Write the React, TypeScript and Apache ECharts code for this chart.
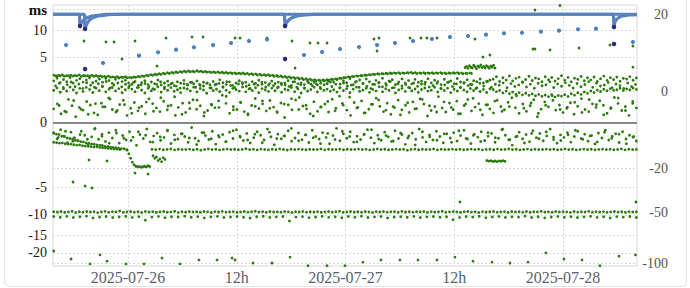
import { useEffect, useRef } from "react";
import * as echarts from "echarts";

// ---------- axes ----------
const T0 = Date.UTC(2025, 6, 26); // 2025-07-26 00:00 UTC, x values are hours since this instant
const HOUR = 3600000;
const xRangeHours = [-8.28, 56.17];
const xTickHours = [0, 12, 24, 36, 48];
const leftTicks = [15, 10, 5, 0, -5, -10, -15, -20];
const leftRange = [-24.2, 16.24];
const rightTicks = [20, 0, -20, -50, -100];
const rightRange = [-103.3, 25.55];

// ---------- score (right axis) ----------
const scoreLineAHours = [-8.28, -5.4, -5.3, -5.15, -4.95, -4.7, -4.3, -3.8, -3.1, -2.3, -1.3, 17.23, 17.33, 17.48, 17.68, 17.93, 18.33, 18.83, 19.53, 20.33, 21.33, 53.53, 53.63, 53.73, 53.88, 54.13, 54.43, 54.83, 55.43, 56.17];
const scoreLineAValues = [20.4, 20.4, 14.7, 16.0, 17.2, 18.2, 19.0, 19.6, 20.0, 20.3, 20.4, 20.4, 14.7, 16.0, 17.2, 18.2, 19.0, 19.6, 20.0, 20.3, 20.4, 20.4, 14.2, 16.4, 17.6, 18.6, 19.3, 19.7, 20.0, 20.2];
const scoreLineBHours = [-8.28, -4.84, -4.74, -4.59, -4.39, -4.14, -3.74, -3.24, -2.54, -1.74, -0.7, 56.17];
const scoreLineBValues = [20.4, 20.4, 13.4, 15.2, 16.7, 17.9, 18.8, 19.5, 19.95, 20.25, 20.4, 20.4];

const monitorScoreHours = [-6.84, -2.76, 1.21, 3.31, 5.3, 7.28, 9.38, 11.37, 13.35, 15.34, 19.42, 21.41, 23.39, 25.49, 27.48, 29.46, 31.45, 33.54, 35.53, 37.52, 39.5, 41.49, 43.48, 45.57, 47.56, 49.66, 51.64, 55.72];
const monitorScores = [7.41, 2.8, 4.41, 5.28, 6.0, 6.7, 7.41, 8.06, 8.74, 9.26, 4.58, 5.36, 6.2, 6.78, 7.41, 8.06, 8.74, 9.44, 10.17, 10.54, 11.05, 11.6, 11.83, 12.24, 12.65, 13.24, 13.5, 8.4];
const stepHours = [-5.3, -4.74, -4.74, 17.33, 17.33, 53.63, 53.63];
const stepScores = [14.7, 13.4, 1.75, 14.7, 3.64, 14.2, 7.74];

// ---------- offsets (left axis, ms) ----------
const upperLineSpan = [-8.17, 37.74];
const upperLine = [2.62,2.6,2.66,2.58,2.63,2.6,2.67,2.6,2.57,2.62,2.6,2.55,2.5,2.53,2.45,2.48,2.42,2.46,2.4,2.44,2.5,2.56,2.62,2.7,2.74,2.8,2.86,2.92,2.95,3.0,3.05,3.1,3.12,3.09,3.15,3.1,3.06,3.02,3.0,3.01,2.97,2.95,2.92,2.9,2.87,2.88,2.84,2.8,2.78,2.74,2.7,2.68,2.64,2.6,2.55,2.5,2.45,2.4,2.35,2.3,2.25,2.2,2.15,2.12,2.13,2.15,2.2,2.24,2.3,2.38,2.45,2.5,2.56,2.6,2.65,2.7,2.75,2.8,2.82,2.85,2.88,2.9,2.93,2.9,2.92,2.96,2.92,2.9,2.93,2.9,2.92,2.9,2.93,2.9,2.88,2.91,2.93,2.9,2.87,2.9];
const upperLine2Span = [-7.95, 37.9];
const upperLine2 = [2.55,2.57,2.52,2.58,2.54,2.56,2.5,2.55,2.53,2.52,2.5,2.46,2.44,2.41,2.4,2.37,2.38,2.35,2.36,2.4,2.45,2.5,2.57,2.62,2.68,2.72,2.78,2.83,2.88,2.93,2.97,3.0,3.03,3.02,3.05,3.0,2.98,2.95,2.93,2.9,2.88,2.85,2.83,2.8,2.8,2.76,2.73,2.7,2.66,2.62,2.6,2.56,2.52,2.47,2.42,2.38,2.33,2.28,2.23,2.18,2.13,2.09,2.05,2.06,2.08,2.12,2.17,2.22,2.3,2.37,2.43,2.48,2.53,2.58,2.62,2.67,2.72,2.75,2.78,2.8,2.83,2.85,2.82,2.85,2.88,2.85,2.82,2.85,2.83,2.85,2.82,2.86,2.83,2.8,2.84,2.86,2.83,2.8,2.82,2.84];
const upperClusterSpan = [37.2, 40.5];
const upperCluster = [3.55,3.7,3.45,3.8,3.6,3.5,3.85,3.65,3.4,3.75,3.6,3.9,3.55,3.7,3.5,3.8,3.65,3.45,3.75,3.6,3.85,3.5];

const bandSpan = [-8.2, 56.1];
const bandHigh = [2.04,2.31,1.88,2.17,1.96,2.38,1.83,2.09,2.26,1.92,2.13,2.35,1.86,2.01,2.22,1.9,2.29,2.07,1.81,2.19,2.33,1.97,2.11,1.85,
1.72,1.98,1.64,1.87,2.06,1.69,1.93,1.78,2.12,1.66,1.84,2.01,1.75,1.6,1.95,1.82,2.09,1.7,1.89,1.77,2.03,1.63,1.91,1.8,1.68,1.99,1.74,2.14,1.86,1.71,1.94,1.62,1.83,2.05,1.76,1.9,1.67,1.97,1.81,2.1,1.73,1.88,1.65,2.02,1.79,1.92,1.7,1.85,2.07,1.61,1.96,1.78,1.84,1.69,2.0,1.74,1.9,1.66,1.82,2.04,1.77,1.93,
1.92,2.18,1.74,2.05,1.86,2.27,1.68,1.99,2.13,1.81,2.22,1.95,1.72,2.09,1.88,2.3,1.79,2.02,2.16,1.7,1.94,2.24,1.83,2.07,1.76,2.19,1.9,2.01,1.73,2.26,1.85,2.11,1.97,1.69,2.2,1.89,2.04,1.78,2.28,1.93,1.82,2.15,1.71,2.06,1.96,2.23,1.84,2.0,2.12,
2.21,2.47,1.98,2.36,2.12,2.55,2.04,2.29,2.42,1.93,2.18,2.51,2.08,2.33,2.24,1.96,2.46,2.15,2.38,2.02,2.27,2.58,2.11,2.4,1.95,2.31,2.2,2.49,2.06,2.35,2.14,2.44,1.99,2.26,2.53,2.09,2.37,2.17,2.43,2.01,2.3,2.22,2.48,2.1,2.34];
const bandLow = [1.22,1.41,1.08,1.33,1.17,1.48,1.26,1.02,1.37,1.14,1.45,1.29,1.06,1.39,1.2,1.52,1.11,1.31,1.44,1.18,1.35,1.04,1.27,1.42,
1.31,1.12,1.46,1.24,1.03,1.38,1.19,1.29,1.5,1.09,1.34,1.22,1.43,1.15,1.27,1.05,1.4,1.32,1.18,1.47,1.1,1.36,1.25,1.01,1.41,1.2,1.3,1.13,1.45,1.23,1.07,1.37,1.28,1.16,1.49,1.11,1.33,1.21,1.42,1.04,1.35,1.26,1.14,1.39,1.19,1.48,1.08,1.3,1.24,1.44,1.12,1.34,1.02,1.4,1.17,1.28,1.46,1.1,1.36,1.22,1.31,1.15,
1.27,1.09,1.43,1.2,1.35,1.04,1.31,1.47,1.15,1.24,1.38,1.07,1.29,1.18,1.5,1.12,1.34,1.22,1.41,1.03,1.26,1.37,1.14,1.45,1.19,1.32,1.08,1.28,1.4,1.16,1.23,1.46,1.1,1.33,1.21,1.39,1.05,1.3,1.17,1.44,1.25,1.11,1.36,1.2,1.42,1.13,1.29,1.06,1.34,
1.28,1.12,1.21,1.03,1.16,0.98,1.09,0.94,1.05,0.9,1.01,0.87,0.96,0.84,0.93,0.81,0.89,0.79,0.92,0.77,0.86,0.82,0.91,0.8,0.97,0.88,1.04,0.93,1.1,1.0,1.17,1.06,1.24,1.13,1.3,1.19,1.35,1.23,1.27,1.38,1.21,1.33,1.26,1.4,1.29];
const bandMidSpan = [-8.0, 56.0];
const bandMid = [1.58,1.81,1.44,1.69,1.93,1.52,1.74,1.37,1.86,1.63,1.47,1.77,1.55,1.98,1.41,1.66,1.84,1.5,1.72,1.6,
1.89,1.43,1.67,1.79,1.53,1.35,1.71,1.95,1.48,1.62,1.83,1.56,1.39,1.76,1.65,1.9,1.46,1.7,1.57,1.85,
1.4,1.68,1.8,1.51,1.97,1.61,1.45,1.75,1.88,1.54,1.36,1.73,1.64,1.91,1.49,1.78,1.59,1.42,1.82,1.66,
1.53,1.94,1.47,1.7,1.38,1.87,1.6,1.76,1.44,1.68,1.99,1.52,1.73,1.4,1.83,1.57,1.65,1.92,1.46,1.79,
1.55,1.37,1.71,1.86,1.5,1.63,1.96,1.43,1.77,1.58,1.69,1.41,1.84,1.54,1.74,1.9,1.48,1.61,1.8,1.39,
1.67,1.93,1.52,1.75,1.45,1.88,1.6,1.7,1.36,1.82,1.56,1.98,1.47,1.72,1.64,1.85,1.42,1.78,1.53,1.66,
1.91,1.49,1.73,1.38,1.81,1.59,1.68,1.95,1.44,1.76,1.55,1.87,1.62,1.4,1.79,1.51,1.7,1.97,1.46,1.84,
1.57,1.65,1.89,1.43,1.74,1.6,1.37,1.83,1.52,1.71];
const nearZeroPos = [0.22,0.41,0.09,0.15,0.63,0.33,0.04,0.27,0.18,0.52,0.36,0.11,0.07,0.44,0.29,0.71,0.2,0.13,0.38,0.58,
0.06,0.24,0.47,0.16,0.31,0.09,0.66,0.42,0.25,0.14,0.53,0.19,0.35,0.78,0.27,0.08,0.12,0.46,0.61,0.21,
0.33,0.05,0.17,0.39,0.26,0.55,0.88,0.43,0.1,0.3,0.2,0.49,0.14,0.07,0.34,0.68,0.23,0.41,0.16,0.57,
0.28,0.12,0.45,0.03,0.37,0.19,0.6,0.74,0.32,0.22,0.09,0.51,0.15,0.29,0.4,0.13,0.64,0.24,0.82,0.36,
0.18,0.06,0.47,0.27,0.55,0.11,0.21,0.39,0.7,0.31,0.14,0.44,0.08,0.26,0.59,0.19,0.35,0.12,0.5,0.23,
0.66,0.4,0.05,0.17,0.3,0.79,0.25,0.13,0.45,0.2,0.54,0.09,0.34,0.62,0.16,0.28,0.42,0.07,0.37,0.22,
0.11,0.58,0.3,0.19,0.48,0.72,0.26,0.1,0.4,0.15,0.33,0.61,0.04,0.21,0.5,0.29,0.85,0.18,0.36,0.12,
0.24,0.46,0.08,0.31,0.67,0.2,0.14,0.41,0.27,0.56,0.35,0.1,0.23,0.74,0.43,0.17,0.3,0.06,0.52,0.25];
const nearZeroPos2Span = [-7.6, 55.7];
const nearZeroPos2 = [0.34,0.13,0.57,0.21,0.08,0.42,0.29,0.65,0.17,0.38,0.1,0.26,0.49,0.15,0.72,0.32,0.06,0.44,0.23,0.59,
0.12,0.36,0.27,0.81,0.19,0.47,0.09,0.31,0.55,0.24,0.14,0.4,0.67,0.2,0.35,0.05,0.28,0.52,0.16,0.43,
0.76,0.25,0.11,0.39,0.6,0.18,0.3,0.07,0.46,0.22,0.63,0.33,0.13,0.5,0.27,0.09,0.41,0.69,0.19,0.37,
0.54,0.15,0.3,0.84,0.24,0.45,0.1,0.35,0.58,0.2,0.28,0.48,0.12,0.62,0.38,0.07,0.26,0.71,0.17,0.43];
const nearZeroNeg = [-0.14,-0.31,-0.06,-0.22,-0.48,-0.11,-0.27,-0.38,-0.09,-0.19,-0.56,-0.24,-0.04,-0.33,-0.16,-0.42,-0.12,-0.28,-0.07,-0.5,
-0.2,-0.35,-0.1,-0.25,-0.61,-0.17,-0.3,-0.05,-0.44,-0.21,-0.13,-0.37,-0.26,-0.08,-0.52,-0.18,-0.32,-0.15,-0.23,-0.46,
-0.03,-0.29,-0.4,-0.12,-0.2,-0.34,-0.09,-0.55,-0.25,-0.17,-0.43,-0.11,-0.3,-0.06,-0.22,-0.38,-0.14,-0.49,-0.27,-0.1,
-0.19,-0.36,-0.05,-0.24,-0.58,-0.16,-0.31,-0.21,-0.08,-0.41,-0.28,-0.13,-0.35,-0.18,-0.47,-0.07,-0.23,-0.32,-0.12,-0.26,
-0.53,-0.2,-0.04,-0.39,-0.15,-0.29,-0.1,-0.45,-0.22,-0.34,-0.16,-0.06,-0.27,-0.5,-0.19,-0.37,-0.11,-0.24,-0.42,-0.08,
-0.3,-0.17,-0.56,-0.21,-0.13,-0.33,-0.05,-0.26,-0.44,-0.18,-0.36,-0.09,-0.23,-0.48,-0.15,-0.28,-0.12,-0.4,-0.2,-0.07,
-0.32,-0.52,-0.16,-0.25,-0.1,-0.38,-0.22,-0.14,-0.46,-0.29,-0.06,-0.19,-0.35,-0.6,-0.24,-0.11,-0.31,-0.17,-0.43,-0.08,
-0.27,-0.14,-0.39,-0.21,-0.05,-0.34,-0.5,-0.18,-0.26,-0.12,-0.45,-0.23,-0.09,-0.3,-0.16,-0.41,-0.2,-0.54,-0.13,-0.28,
-0.07,-0.36,-0.22,-0.15,-0.47,-0.1,-0.32,-0.19,-0.25,-0.4];
const nearZeroNeg2Span = [-7.7, 55.8];
const nearZeroNeg2 = [-0.26,-0.09,-0.41,-0.17,-0.33,-0.05,-0.22,-0.5,-0.13,-0.29,-0.38,-0.1,-0.19,-0.45,-0.24,-0.07,-0.35,-0.15,-0.28,-0.57,
-0.12,-0.31,-0.2,-0.43,-0.08,-0.25,-0.36,-0.16,-0.48,-0.11,-0.3,-0.21,-0.04,-0.39,-0.18,-0.27,-0.52,-0.14,-0.34,-0.09,
-0.23,-0.44,-0.17,-0.06,-0.32,-0.2,-0.4,-0.13,-0.28,-0.59,-0.1,-0.24,-0.37,-0.15,-0.46,-0.08,-0.3,-0.19,-0.42,-0.12,
-0.27,-0.05,-0.35,-0.22,-0.49,-0.14,-0.31,-0.1,-0.25,-0.38,-0.18,-0.07,-0.33,-0.21,-0.44,-0.11,-0.29,-0.16,-0.53,-0.23];

const driftSpanA = [-8.2, -0.15];
const driftA = [-0.12,-0.16,-0.17,-0.22,-0.23,-0.28,-0.3,-0.32,-0.37,-0.39,-0.43,-0.44,-0.49,-0.5,-0.54,-0.55,-0.59,-0.61,-0.62,-0.67,-0.68,-0.71,-0.73,-0.74,-0.78,-0.8,-0.81,-0.86];
const driftSpanB = [-8.2, -0.9];
const driftB = [-0.46,-0.48,-0.5,-0.49,-0.53,-0.55,-0.54,-0.58,-0.6,-0.59,-0.63,-0.65,-0.66,-0.68,-0.7,-0.69,-0.73,-0.75,-0.76,-0.78,-0.8,-0.82,-0.83,-0.86];
const dropSpan = [-0.1, 2.4];
const drop = [-0.9,-1.15,-1.5,-1.85,-2.1,-2.25,-2.3,-2.28,-2.35,-2.3,-2.25,-2.32,-2.2,-2.28];
const steadySpan = [2.65, 56.1];
const steady = [-0.84,-0.86,-0.83,-0.87,-0.85,-0.82,-0.88,-0.84,-0.86,-0.85,-0.83,-0.87,-0.84,-0.9,-0.85,-0.82,-0.86,-0.84,-0.88,-0.85,-0.83,-0.86,-0.84,-0.87,-0.85,-0.81,-0.86,-0.84,-0.88,-0.83,-0.85,-0.87,-0.84,-0.86,-0.82,-0.85,-0.89,-0.84,-0.86,-0.83,-0.85,-0.87,-0.84,-0.86,-0.85,-0.82,-0.88,-0.84,-0.86,-0.85,-0.83,-0.87,-0.84,-0.86,-0.85,-0.83,-0.86,-0.84,-0.88,-0.85,-0.82,-0.86,-0.84,-0.87,-0.85,-0.83,-0.86,-0.84,-0.9,-0.85,-0.83,-0.87,-0.84,-0.86,-0.85,-0.82,-0.88,-0.84,-0.86,-0.85,-0.83,-0.86,-0.84,-0.87,-0.85,-0.83,-0.86,-0.84,-0.88,-0.85,-0.84,-0.87,-0.83,-0.86,-0.85,-0.82,-0.86,-0.84,-0.88,-0.85,-0.83,-0.87,-0.84,-0.86,-0.85,-0.83,-0.86,-0.84,-0.87,-0.85,-0.82,-0.86,-0.84,-0.88,-0.85,-0.83,-0.86,-0.84,-0.87,-0.85,-0.83,-0.86,-0.84,-0.87,-0.85,-0.82,-0.88,-0.84,-0.86,-0.85];
const clusterASpan = [2.76, 4.08];
const clusterA = [-1.3,-1.5,-1.4,-1.7,-1.55,-1.8,-1.45,-1.6];
const clusterBSpan = [39.6, 41.6];
const clusterB = [-1.7,-1.75,-1.72,-1.78,-1.74,-1.8,-1.73,-1.76,-1.71,-1.77];

const tenSpan = [-8.2, 56.1];
const tenUpper = [-9.35,-9.42,-9.3,-9.48,-9.38,-9.25,-9.5,-9.36,-9.44,-9.3,-9.4,-9.33,-9.55,-9.37,-9.28,-9.45,-9.35,-9.4,-9.22,-9.47,-9.38,-9.31,-9.43,-9.36,-9.5,-9.29,-9.41,-9.34,-9.46,-9.37,-9.3,-9.44,-9.38,-9.26,-9.49,-9.35,-9.42,-9.32,-9.4,-9.36,-9.45,-9.3,-9.38,-9.52,-9.34,-9.41,-9.28,-9.43,-9.37,-9.33,-9.47,-9.39,-9.31,-9.44,-9.36,-9.25,-9.42,-9.35,-9.48,-9.3,-9.4,-9.37,-9.45,-9.32,-9.38,-9.5,-9.34,-9.41,-9.29,-9.44,-9.36,-9.4,-9.33,-9.46,-9.38,-9.3,-9.43,-9.35,-9.27,-9.48,-9.39,-9.32,-9.42,-9.36,-9.45,-9.31,-9.38,-9.5,-9.34,-9.4,-9.3,-9.44,-9.37,-9.33,-9.46,-9.28,-9.41,-9.36,-9.43,-9.35,-9.39,-9.3,-9.47,-9.34,-9.42,-9.37,-9.26,-9.45,-9.38,-9.32,-9.4,-9.48,-9.35,-9.3,-9.43,-9.37,-9.5,-9.33,-9.41,-9.36,-9.29,-9.44,-9.38,-9.34,-9.46,-9.31,-9.4,-9.36,-9.43,-9.3,-9.47,-9.35,-9.39,-9.27,-9.42,-9.37,-9.45,-9.32,-9.4,-9.34,-9.38,-9.49,-9.31,-9.43,-9.36,-9.4,-9.28,-9.45,-9.35,-9.41,-9.33,-9.46,-9.38,-9.3,-9.42,-9.36,-9.48,-9.34,-9.4,-9.37];
const tenLower = [-10.4,-10.55,-10.35,-10.6,-10.45,-10.3,-10.7,-10.5,-10.38,-10.62,-10.48,-10.33,-10.58,-10.42,-11.2,-10.52,-10.36,-10.65,-10.44,-10.5,-10.3,-10.56,-10.41,-10.68,-10.47,-10.35,-10.6,-10.5,-10.4,-10.55,-10.72,-10.43,-10.32,-10.58,-10.46,-10.38,-11.4,-10.52,-10.41,-10.63,-10.49,-10.34,-10.57,-10.45,-10.66,-10.4,-10.53,-10.31,-10.6,-10.47,-10.39,-10.7,-10.5,-10.42,-10.56,-10.35,-10.62,-10.46,-10.38,-10.54,-10.44,-11.1,-10.58,-10.4,-10.51,-10.33,-10.64,-10.48,-10.37,-10.59,-10.45,-10.52,-10.3,-10.6,-10.43,-10.68,-10.5,-10.36,-10.55,-10.42,-10.62,-10.47,-10.34,-10.57,-10.45,-10.7,-10.41,-10.53,-10.38,-10.6];

const farHours = [-8.2,-6.29,-4.19,-3.09,-2.32,-0.22,1.77,3.75,5.74,7.83,9.82,11.48,11.81,13.79,15.89,17.88,19.86,21.96,23.94,25.93,27.92,30.01,32.0,34.1,36.08,38.07,40.17,42.15,44.14,46.12,48.11,50.1,52.08,54.18,56.0];
const farValues = [-19.4,-21.9,-23.5,-20.6,-22.6,-23.5,-23.5,-21.6,-23.5,-22.2,-22.2,-21.6,-22.2,-23.2,-23.2,-21.3,-24.1,-24.1,-24.1,-22.9,-22.2,-22.2,-22.2,-22.2,-21.3,-22.6,-22.9,-23.2,-22.9,-20.0,-21.9,-22.2,-24.1,-21.0,-20.6];
const highHours = [-4.86,-2.43,-1.54,-0.66,0.77,4.19,7.06,8.28,11.81,12.36,15.34,18.1,20.08,20.97,21.96,27.14,27.7,27.48,31.12,32.33,32.99,34.1,38.29,39.17,39.94,44.69,44.91,46.57,49.77,53.19,55.72,44.91,47.67,3.2,18.43,55.72];
const highValues = [7.81,7.62,7.62,4.74,7.81,8.4,8.6,8.6,8.4,8.4,8.4,7.81,7.43,7.43,7.43,8.2,8.4,6.01,8.4,8.4,8.4,8.4,8.2,5.04,5.36,6.35,6.35,6.18,6.53,7.06,6.88,14.88,16.1,3.75,3.49,3.6];
const strayHours = [-6.07,-4.74,-3.97,-4.3,-2.32,0.77,2.21,36.63,56.05];
const strayValues = [-4.16,-4.74,-5.04,-1.65,-1.74,-3.0,-3.12,-7.43,-7.43];

// ---------- helpers ----------
const sq = (v: number) => Math.sign(v) * Math.sqrt(Math.abs(v));
const unsq = (t: number) => Math.sign(t) * t * t;
const spread = (span: number[], values: number[]) =>
  values.map((v, i) => [span[0] + ((span[1] - span[0]) * i) / Math.max(1, values.length - 1), sq(v)]);
const pairs = (hours: number[], values: number[]) => hours.map((h, i) => [h, sq(values[i])]);

const FONT = "Liberation Serif";
const GREEN = "#2b7a0e";
const GRID_LINE = { show: true, lineStyle: { color: "#d9d9d9", type: [2, 2] as any, width: 1 } };

const formatHour = (h: number) => {
  const d = new Date(T0 + Math.round(h) * HOUR);
  const hh = d.getUTCHours();
  if (hh === 0) {
    const mm = String(d.getUTCMonth() + 1).padStart(2, "0");
    const dd = String(d.getUTCDate()).padStart(2, "0");
    return `${d.getUTCFullYear()}-${mm}-${dd}`;
  }
  return `${hh}h`;
};

export default function App() {
  const ref = useRef<HTMLDivElement>(null);
  useEffect(() => {
    if (!ref.current) return;
    const chart = echarts.init(ref.current, undefined, { renderer: "svg" });
    const green = (data: number[][]) => ({
      type: "scatter",
      yAxisIndex: 0,
      data,
      symbol: "circle",
      symbolSize: 2.8,
      itemStyle: { color: GREEN, opacity: 1 },
      silent: true,
      z: 2,
    });
    const greenSets = [
      spread(upperLineSpan, upperLine),
      spread(upperLine2Span, upperLine2),
      spread(upperClusterSpan, upperCluster),
      spread(bandSpan, bandHigh),
      spread(bandSpan, bandLow),
      spread(bandMidSpan, bandMid),
      spread(bandSpan, nearZeroPos),
      spread(nearZeroPos2Span, nearZeroPos2),
      spread(bandSpan, nearZeroNeg),
      spread(nearZeroNeg2Span, nearZeroNeg2),
      spread(driftSpanA, driftA),
      spread(driftSpanB, driftB),
      spread(dropSpan, drop),
      spread(steadySpan, steady),
      spread(clusterASpan, clusterA),
      spread(clusterBSpan, clusterB),
      spread(tenSpan, tenUpper),
      spread(tenSpan, tenLower),
      pairs(farHours, farValues),
      pairs(highHours, highValues),
      pairs(strayHours, strayValues),
    ];
    const series: any[] = greenSets.map((d) => green(d));
    series[0].markLine = {
      silent: true,
      symbol: "none",
      label: { show: false },
      lineStyle: { color: "#888", width: 1.8, type: "solid" },
      data: [{ yAxis: 0 }],
    };
    const scoreLine = (hours: number[], values: number[]) => ({
      type: "line",
      yAxisIndex: 1,
      data: pairs(hours, values),
      showSymbol: false,
      smooth: 0.3,
      lineStyle: { color: "#5a82bd", width: 3.2 },
      silent: true,
      z: 5,
    });
    series.push(scoreLine(scoreLineAHours, scoreLineAValues));
    series.push(scoreLine(scoreLineBHours, scoreLineBValues));
    series.push({
      type: "scatter",
      yAxisIndex: 1,
      data: pairs(monitorScoreHours, monitorScores),
      symbolSize: 4.2,
      itemStyle: { color: "#4a7fc2", opacity: 1 },
      silent: true,
      z: 6,
    });
    series.push({
      type: "scatter",
      yAxisIndex: 1,
      data: pairs(stepHours, stepScores),
      symbolSize: 4.5,
      itemStyle: { color: "#2b2a78", opacity: 1 },
      silent: true,
      z: 7,
    });

    chart.setOption({
      animation: false,
      grid: {
        left: 53,
        right: 53,
        top: 5,
        bottom: 22,
        show: true,
        borderColor: "#d6d6d6",
        borderWidth: 1,
      },
      xAxis: {
        type: "value",
        min: xRangeHours[0],
        max: xRangeHours[1],
        axisLine: { show: false },
        axisTick: { show: false, customValues: xTickHours },
        splitLine: GRID_LINE,
        axisLabel: {
          customValues: xTickHours,
          color: "#5a5f6e",
          fontFamily: FONT,
          fontSize: 16,
          margin: 3,
          formatter: (v: number) => formatHour(v),
        },
      },
      yAxis: [
        {
          type: "value",
          min: sq(leftRange[0]),
          max: sq(leftRange[1]),
          axisLine: { show: false },
          axisTick: { show: false, customValues: leftTicks.map(sq) },
          splitLine: GRID_LINE,
          axisLabel: {
            customValues: leftTicks.map(sq),
            color: "#1a1a1a",
            fontFamily: FONT,
            fontSize: 14,
            margin: 6,
            formatter: (v: number) => {
              const r = Math.round(unsq(v));
              return r === 15 ? "{u|ms}" : String(r);
            },
            rich: { u: { fontWeight: "bold", fontSize: 15, fontFamily: FONT, color: "#111" } },
          },
        },
        {
          type: "value",
          position: "right",
          min: sq(rightRange[0]),
          max: sq(rightRange[1]),
          axisLine: { show: false },
          axisTick: { show: false, customValues: rightTicks.map(sq) },
          splitLine: GRID_LINE,
          axisLabel: {
            customValues: rightTicks.map(sq),
            color: "#555",
            fontFamily: FONT,
            fontSize: 14,
            margin: 31,
            align: "right",
            formatter: (v: number) => String(Math.round(unsq(v))),
          },
        },
      ],
      series,
    });
    return () => chart.dispose();
  }, []);

  return (
    <div style={{ position: "fixed", left: 0, top: 0, width: 690, height: 288, background: "#fff", overflow: "hidden" }}>
      <div
        style={{
          position: "absolute",
          left: 4,
          top: -12,
          right: 3,
          bottom: 1,
          border: "1px solid #e3e3e3",
          borderRadius: 6,
        }}
      />
      <div ref={ref} style={{ position: "absolute", left: 0, top: 0, width: 690, height: 288 }} />
    </div>
  );
}
